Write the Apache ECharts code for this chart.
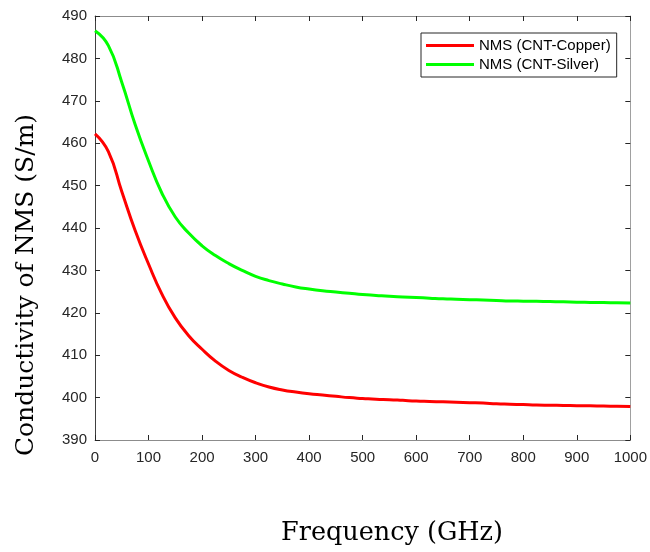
<!DOCTYPE html>
<html>
<head>
<meta charset="utf-8">
<script src="https://cdn.jsdelivr.net/npm/echarts@6/dist/echarts.min.js"></script>
<style>html,body{margin:0;padding:0;background:#fff}#c{width:650px;height:552px}</style>
</head>
<body>
<div id="c"></div>
<script>
const freq   = [0, 25, 50, 75, 100, 125, 150, 175, 200, 225, 250, 275, 300, 325, 350, 375, 400, 425, 450, 475, 500,
                525, 550, 575, 600, 625, 650, 675, 700, 725, 750, 775, 800, 825, 850, 875, 900, 925, 950, 975, 1000];
const copper = [462.2, 458.0, 448.6, 439.4, 431.5, 424.4, 418.8, 414.6, 411.4, 408.6, 406.4, 404.8, 403.5, 402.5, 401.8, 401.3, 400.9, 400.6, 400.3, 400.0, 399.8,
                399.6, 399.5, 399.35, 399.2, 399.1, 399.0, 398.9, 398.8, 398.7, 398.55, 398.45, 398.35, 398.25, 398.2, 398.15, 398.1, 398.05, 398.0, 397.95, 397.9];
const silver = [486.5, 483.0, 474.4, 464.4, 455.8, 448.2, 442.6, 438.8, 435.8, 433.5, 431.6, 430.0, 428.6, 427.6, 426.8, 426.1, 425.6, 425.2, 424.9, 424.6, 424.3,
                424.1, 423.9, 423.75, 423.6, 423.45, 423.3, 423.2, 423.1, 423.0, 422.9, 422.8, 422.75, 422.7, 422.65, 422.6, 422.5, 422.45, 422.4, 422.35, 422.3];
const xTicks = [0, 100, 200, 300, 400, 500, 600, 700, 800, 900, 1000];
const yTicks = [390, 400, 410, 420, 430, 440, 450, 460, 470, 480, 490];
const seriesNames = ['NMS (CNT-Copper)', 'NMS (CNT-Silver)'];

const pair = (ys) => freq.map((f, i) => [f, ys[i]]);
const chart = echarts.init(document.getElementById('c'));
const labelStyle = { color: '#262626', fontFamily: 'Liberation Sans, Arial, sans-serif', fontSize: 15, formatter: (v) => String(v) };
chart.setOption({
  animation: false,
  backgroundColor: '#fff',
  grid: { left: 95, right: 17, top: 16, bottom: 112 },
  legend: {
    orient: 'vertical', left: 421, top: 33,
    padding: [5, 6, 5, 5], itemGap: 4,
    itemWidth: 48, itemHeight: 3, icon: 'rect',
    borderColor: '#262626', borderWidth: 1, backgroundColor: '#fff',
    textStyle: { color: '#000', fontFamily: 'Liberation Sans, Arial, sans-serif', fontSize: 15 },
    data: seriesNames
  },
  xAxis: [{
    type: 'value', min: xTicks[0], max: xTicks[xTicks.length - 1], interval: 100,
    axisLine: { onZero: false, lineStyle: { color: '#8c8c8c', width: 1 } },
    axisTick: { inside: true, length: 5, lineStyle: { color: '#262626' } },
    axisLabel: Object.assign({ margin: 10 }, labelStyle),
    splitLine: { show: false }
  }, {
    type: 'value', position: 'top', min: xTicks[0], max: xTicks[xTicks.length - 1], interval: 100,
    axisLine: { onZero: false, lineStyle: { color: '#8c8c8c', width: 1 } },
    axisTick: { inside: true, length: 5, lineStyle: { color: '#262626' } },
    axisLabel: { show: false }, splitLine: { show: false }
  }],
  yAxis: [{
    type: 'value', min: yTicks[0], max: yTicks[yTicks.length - 1], interval: 10,
    axisLine: { show: true, onZero: false, lineStyle: { color: '#404040', width: 1 } },
    axisTick: { show: true, inside: true, length: 5, lineStyle: { color: '#262626' } },
    axisLabel: Object.assign({ margin: 8 }, labelStyle),
    splitLine: { show: false }
  }, {
    type: 'value', position: 'right', min: yTicks[0], max: yTicks[yTicks.length - 1], interval: 10,
    axisLine: { show: true, onZero: false, lineStyle: { color: '#a0a0a0', width: 1 } },
    axisTick: { show: true, inside: true, length: 5, lineStyle: { color: '#262626' } },
    axisLabel: { show: false }, splitLine: { show: false }
  }],
  graphic: [{
    type: 'text', x: 392, y: 533,
    style: { text: 'Frequency (GHz)', font: '25.5px "DejaVu Serif", "Liberation Serif", serif', fill: '#000', align: 'center', verticalAlign: 'middle' }
  }, {
    type: 'text', x: 26, y: 285, rotation: Math.PI / 2,
    style: { text: 'Conductivity of NMS (S/m)', font: '25px "DejaVu Serif", "Liberation Serif", serif', fill: '#000', align: 'center', verticalAlign: 'middle' }
  }],
  series: [{
    name: seriesNames[0], type: 'line', data: pair(copper), showSymbol: false,
    smooth: 0.5, lineStyle: { color: '#ff0000', width: 3 }, itemStyle: { color: '#ff0000' }
  }, {
    name: seriesNames[1], type: 'line', data: pair(silver), showSymbol: false,
    smooth: 0.5, lineStyle: { color: '#00ff00', width: 3 }, itemStyle: { color: '#00ff00' }
  }]
});
</script>
</body>
</html>
